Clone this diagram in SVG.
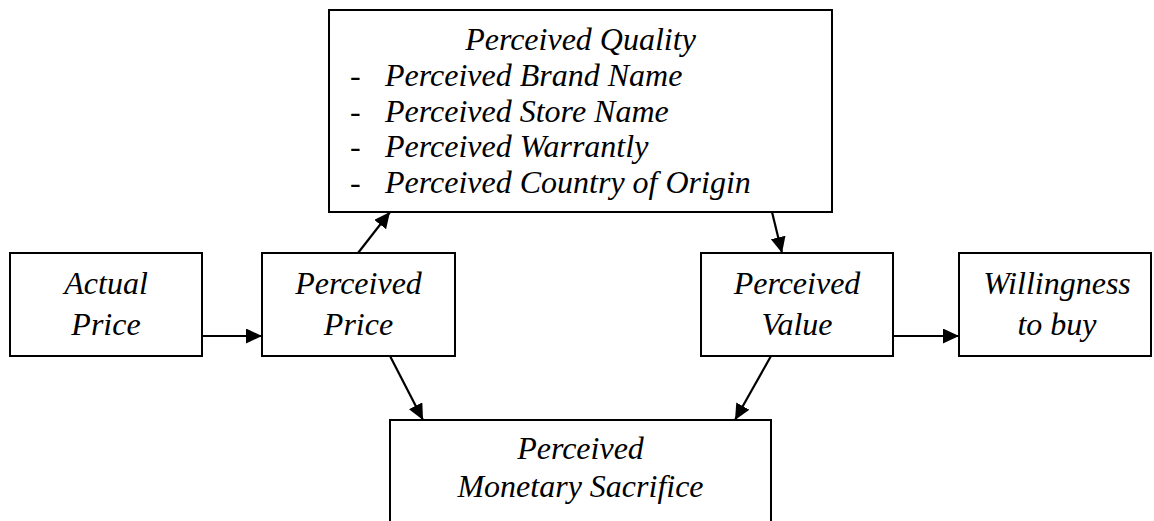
<svg xmlns="http://www.w3.org/2000/svg" width="1154" height="521" viewBox="0 0 1154 521">
  <style>
    .box { fill: #ffffff; stroke: #000000; stroke-width: 2; }
    .lbl { font-family: "Liberation Serif", "Times New Roman", serif; font-style: italic; font-size: 32px; fill: #000000; }
    .mid { text-anchor: middle; }
    .dash { font-family: "Liberation Serif", "Times New Roman", serif; font-size: 32px; fill: #000000; }
    .edge { stroke: #000000; stroke-width: 2.2; fill: none; marker-end: url(#arrow); }
  </style>
  <defs>
    <marker id="arrow" markerUnits="userSpaceOnUse" markerWidth="17" markerHeight="16" refX="16" refY="7.5" orient="auto">
      <path d="M0,0 L16,7.5 L0,15 Z" fill="#000000"/>
    </marker>
  </defs>

  <rect width="1154" height="521" fill="#ffffff"/>

  <!-- quality box with its four listed factors -->
  <g id="perceived-quality">
    <rect class="box" x="329" y="10" width="503" height="202"/>
    <text class="lbl mid" x="580.5" y="50">Perceived Quality</text>
    <text class="dash" x="350" y="86">-</text>
    <text class="lbl" x="385" y="86">Perceived Brand Name</text>
    <text class="dash" x="350" y="122">-</text>
    <text class="lbl" x="385" y="122">Perceived Store Name</text>
    <text class="dash" x="350" y="157">-</text>
    <text class="lbl" x="385" y="157">Perceived Warrantly</text>
    <text class="dash" x="350" y="193">-</text>
    <text class="lbl" x="385" y="193">Perceived Country of Origin</text>
  </g>

  <g id="actual-price">
    <rect class="box" x="10" y="253" width="192" height="103"/>
    <text class="lbl mid" x="106" y="294">Actual</text>
    <text class="lbl mid" x="106" y="335">Price</text>
  </g>

  <g id="perceived-price">
    <rect class="box" x="262" y="253" width="193" height="103"/>
    <text class="lbl mid" x="358.5" y="294">Perceived</text>
    <text class="lbl mid" x="358.5" y="335">Price</text>
  </g>

  <g id="perceived-value">
    <rect class="box" x="701" y="253" width="192" height="103"/>
    <text class="lbl mid" x="797" y="294">Perceived</text>
    <text class="lbl mid" x="797" y="335">Value</text>
  </g>

  <g id="willingness-to-buy">
    <rect class="box" x="959" y="253" width="192" height="103"/>
    <text class="lbl mid" x="1057" y="294">Willingness</text>
    <text class="lbl mid" x="1057" y="335">to buy</text>
  </g>

  <!-- bottom box runs past the lower edge of the canvas -->
  <g id="perceived-monetary-sacrifice">
    <rect class="box" x="390" y="420" width="381" height="120"/>
    <text class="lbl mid" x="580.5" y="459">Perceived</text>
    <text class="lbl mid" x="580.5" y="497">Monetary Sacrifice</text>
  </g>

  <g id="connectors">
    <line class="edge" x1="202" y1="336" x2="262" y2="336"/>
    <line class="edge" x1="358" y1="253" x2="390" y2="212"/>
    <line class="edge" x1="772" y1="212" x2="782" y2="253"/>
    <line class="edge" x1="893" y1="336" x2="959" y2="336"/>
    <line class="edge" x1="390" y1="356" x2="423" y2="420"/>
    <line class="edge" x1="771" y1="356" x2="735" y2="420"/>
  </g>
</svg>
